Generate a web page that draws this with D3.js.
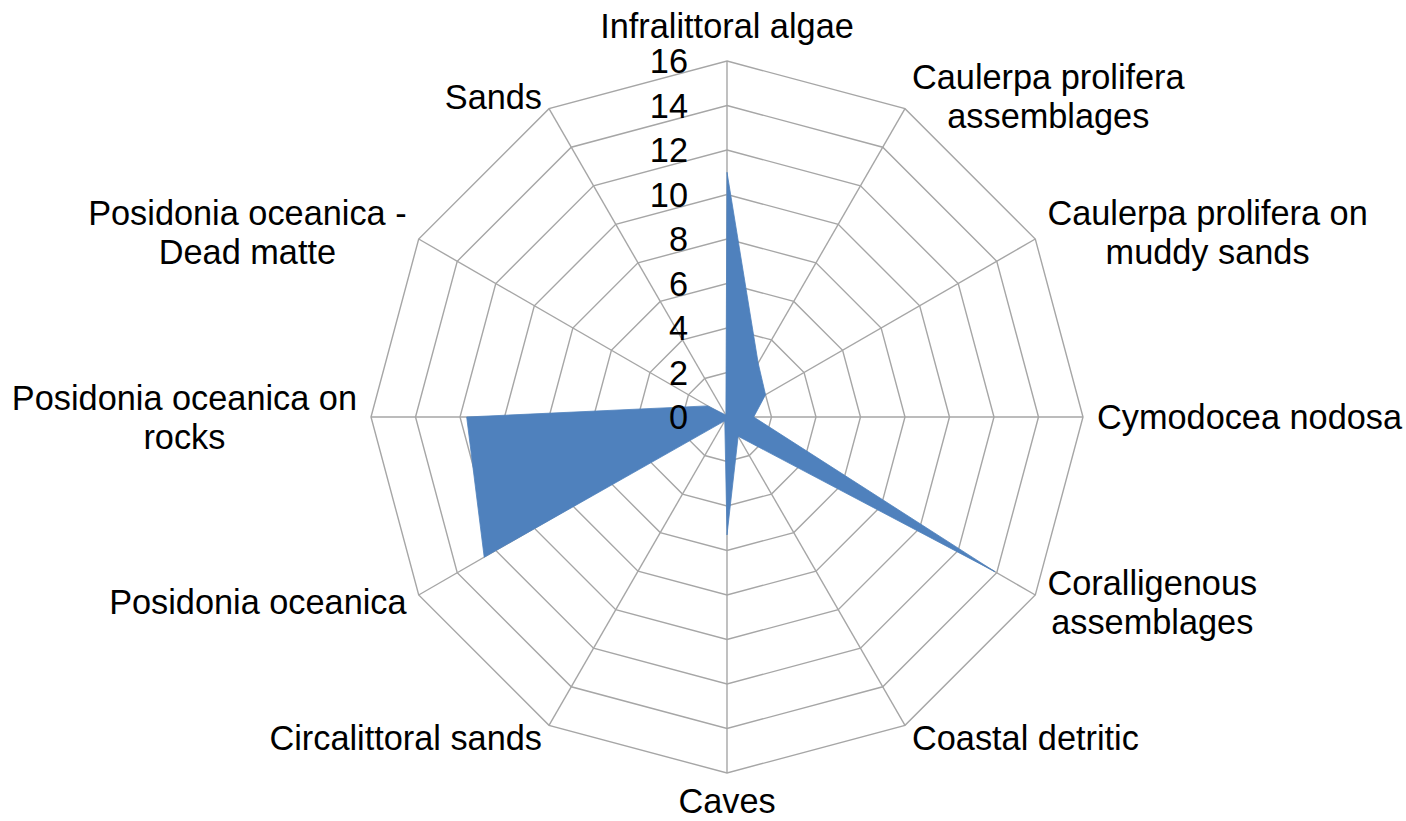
<!DOCTYPE html>
<html>
<head>
<meta charset="utf-8">
<script src="https://cdn.jsdelivr.net/npm/d3@7"></script>
<style>
  html, body { margin: 0; padding: 0; background: #fff; }
  svg text { font-family: "Liberation Sans", Arial, Helvetica, sans-serif; fill: #000; }
</style>
</head>
<body>
<svg id="radar" width="1406" height="821"></svg>
<script>
// categories clockwise from the top, "\n" marks the wrapped labels
const categories = [
  "Infralittoral algae",
  "Caulerpa prolifera\nassemblages",
  "Caulerpa prolifera on\nmuddy sands",
  "Cymodocea nodosa",
  "Coralligenous\nassemblages",
  "Coastal detritic",
  "Caves",
  "Circalittoral sands",
  "Posidonia oceanica",
  "Posidonia oceanica on\nrocks",
  "Posidonia oceanica -\nDead matte",
  "Sands"
];
const values = [11.0, 2.8, 2.0, 1.2, 13.9, 1.0, 5.3, 0.2, 12.6, 11.7, 1.0, 0.1];
const ticks = [0, 2, 4, 6, 8, 10, 12, 14, 16];

const width = 1406, height = 821;
const cx = 727, cy = 417, radius = 356;
const fontSize = 34.3, lineH = 39, capH = 24.4;

const svg = d3.select("#radar");

const r = d3.scaleLinear().domain([0, 16]).range([0, radius]);
const angle = d3.scaleLinear().domain([0, categories.length]).range([0, 2 * Math.PI]);

const g = svg.append("g").attr("transform", "translate(" + cx + "," + cy + ")");

const pt = (i, v) => [r(v) * Math.sin(angle(i)), -r(v) * Math.cos(angle(i))];
const line = d3.line().curve(d3.curveLinearClosed);

// rings
g.selectAll("path.ring")
  .data(ticks.slice(1))
  .enter()
  .append("path")
  .attr("class", "ring")
  .attr("d", t => line(categories.map((c, i) => pt(i, t))))
  .attr("fill", "none")
  .attr("stroke", "#a6a6a6")
  .attr("stroke-width", 1.4);

// spokes
g.selectAll("line.spoke")
  .data(categories)
  .enter()
  .append("line")
  .attr("class", "spoke")
  .attr("x1", 0).attr("y1", 0)
  .attr("x2", (d, i) => pt(i, 16)[0])
  .attr("y2", (d, i) => pt(i, 16)[1])
  .attr("stroke", "#a6a6a6")
  .attr("stroke-width", 1.4);

// series
g.append("path")
  .attr("d", line(values.map((v, i) => pt(i, v))))
  .attr("fill", "#4f81bd")
  .attr("stroke", "#4f81bd")
  .attr("stroke-width", 0.8);

// value axis labels
g.selectAll("text.tick")
  .data(ticks)
  .enter()
  .append("text")
  .attr("class", "tick")
  .attr("x", -39)
  .attr("y", t => -r(t) + capH / 2)
  .attr("text-anchor", "end")
  .style("font-size", fontSize + "px")
  .text(t => t);

// category labels, lines centred inside their block
const gap = 14;
categories.forEach((c, i) => {
  const a = angle(i);
  const s = Math.sin(a), k = Math.cos(a);
  const x = (radius + gap) * s;
  const y = -(radius + gap) * k;
  const lines = c.split("\n");
  let y0;
  if (Math.abs(s) <= 0.1 && k > 0) {
    y0 = y - 9 - (lines.length - 1) * lineH;
  } else if (Math.abs(s) <= 0.1) {
    y0 = y + capH + 2;
  } else {
    y0 = y - (lines.length - 1) * lineH / 2 + capH / 2;
  }
  const t = g.append("text")
    .attr("text-anchor", "middle")
    .style("font-size", fontSize + "px");
  const spans = lines.map((l, j) =>
    t.append("tspan").attr("y", y0 + j * lineH).text(l));
  const w = d3.max(spans, sp => sp.node().getComputedTextLength());
  let mid = x;
  if (s > 0.1) mid = x + w / 2;
  else if (s < -0.1) mid = x - w / 2;
  spans.forEach(sp => sp.attr("x", mid));
});
</script>
</body>
</html>
